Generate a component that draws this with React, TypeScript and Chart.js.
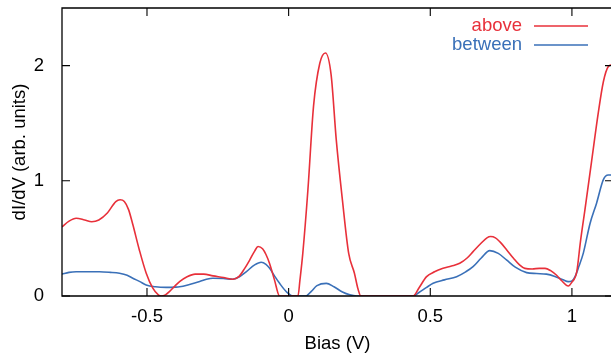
import React, { useEffect, useRef } from "react";
import { Chart, registerables } from "chart.js";

Chart.register(...registerables);

const aboveX = [-0.8, -0.775, -0.75, -0.72, -0.695, -0.67, -0.64, -0.61, -0.595, -0.58, -0.565, -0.55, -0.527, -0.503, -0.48, -0.46, -0.45, -0.435, -0.42, -0.4, -0.385, -0.36, -0.33, -0.3, -0.267, -0.23, -0.197, -0.175, -0.155, -0.138, -0.12, -0.108, -0.092, -0.08, -0.067, -0.05, -0.032, 0.0, 0.033, 0.04, 0.05, 0.068, 0.088, 0.11, 0.13, 0.15, 0.168, 0.19, 0.212, 0.232, 0.245, 0.255, 0.3, 0.35, 0.4, 0.44, 0.46, 0.487, 0.515, 0.545, 0.575, 0.604, 0.63, 0.651, 0.68, 0.7, 0.713, 0.73, 0.746, 0.77, 0.793, 0.815, 0.834, 0.86, 0.885, 0.905, 0.925, 0.946, 0.965, 0.987, 1.0, 1.017, 1.03, 1.046, 1.07, 1.093, 1.111, 1.128, 1.145];
const aboveY = [0.6, 0.65, 0.675, 0.66, 0.645, 0.66, 0.72, 0.82, 0.835, 0.82, 0.75, 0.62, 0.4, 0.2, 0.07, 0.01, 0.0, 0.01, 0.04, 0.09, 0.125, 0.165, 0.19, 0.19, 0.175, 0.16, 0.145, 0.17, 0.24, 0.31, 0.39, 0.43, 0.41, 0.36, 0.28, 0.14, 0.0, 0.0, 0.0, 0.14, 0.37, 0.92, 1.65, 2.02, 2.11, 1.92, 1.36, 0.83, 0.37, 0.2, 0.06, 0.0, 0.0, 0.0, 0.0, 0.0, 0.07, 0.168, 0.21, 0.24, 0.26, 0.284, 0.33, 0.385, 0.46, 0.505, 0.516, 0.505, 0.47, 0.4, 0.33, 0.27, 0.24, 0.235, 0.24, 0.24, 0.22, 0.18, 0.13, 0.087, 0.12, 0.21, 0.47, 0.75, 1.18, 1.59, 1.86, 1.99, 2.01];

const betweenX = [-0.8, -0.775, -0.75, -0.7, -0.668, -0.63, -0.597, -0.57, -0.55, -0.525, -0.503, -0.47, -0.432, -0.4, -0.385, -0.35, -0.314, -0.29, -0.267, -0.23, -0.197, -0.175, -0.15, -0.12, -0.097, -0.08, -0.067, -0.05, -0.032, -0.008, 0.015, 0.06, 0.08, 0.1, 0.133, 0.16, 0.19, 0.216, 0.24, 0.44, 0.46, 0.487, 0.51, 0.55, 0.593, 0.625, 0.651, 0.68, 0.71, 0.74, 0.769, 0.8, 0.84, 0.875, 0.91, 0.94, 0.969, 0.987, 1.0, 1.011, 1.025, 1.04, 1.064, 1.087, 1.111, 1.128, 1.145];
const betweenY = [0.19, 0.205, 0.21, 0.21, 0.21, 0.205, 0.197, 0.18, 0.154, 0.125, 0.096, 0.08, 0.075, 0.077, 0.08, 0.1, 0.125, 0.145, 0.154, 0.152, 0.145, 0.165, 0.21, 0.27, 0.293, 0.275, 0.24, 0.175, 0.11, 0.037, 0.0, 0.0, 0.04, 0.09, 0.11, 0.08, 0.035, 0.01, 0.0, 0.0, 0.03, 0.075, 0.11, 0.14, 0.168, 0.21, 0.255, 0.33, 0.394, 0.37, 0.313, 0.25, 0.203, 0.195, 0.19, 0.17, 0.14, 0.125, 0.13, 0.168, 0.26, 0.37, 0.63, 0.806, 1.01, 1.05, 1.05];

const seriesNames = ["above", "between"];
const seriesColors = ["#e8303a", "#3a70b8"];
const xTicks = [-0.5, 0, 0.5, 1];
const xTickLabels = ["-0.5", "0", "0.5", "1"];
const yTicks = [0, 1, 2];
const yTickLabels = ["0", "1", "2"];
const xRange = [-0.8, 1.145];
const yRange = [0, 2.5];
const xTitle = "Bias (V)";
const yTitle = "dI/dV (arb. units)";

const FONT = "'Liberation Sans', Arial, Helvetica, sans-serif";
const FS = 18.5;

const framePlugin = {
  id: "frame",
  afterDraw(chart: any) {
    const { ctx, chartArea } = chart;
    const { left, right, top, bottom } = chartArea;
    const xs = chart.scales.x;
    const ys = chart.scales.y;
    ctx.save();
    ctx.strokeStyle = "#000";
    ctx.lineWidth = 1.3;
    ctx.beginPath();
    ctx.moveTo(left, top);
    ctx.lineTo(right, top);
    ctx.lineTo(right, bottom);
    ctx.lineTo(left, bottom);
    ctx.closePath();
    ctx.stroke();
    const TL = 8;
    ctx.lineWidth = 1.1;
    ctx.beginPath();
    xTicks.forEach((v) => {
      const px = xs.getPixelForValue(v);
      ctx.moveTo(px, bottom);
      ctx.lineTo(px, bottom - TL);
      ctx.moveTo(px, top);
      ctx.lineTo(px, top + TL);
    });
    yTicks.forEach((v) => {
      const py = ys.getPixelForValue(v);
      ctx.moveTo(left, py);
      ctx.lineTo(left + TL, py);
      ctx.moveTo(right, py);
      ctx.lineTo(right - TL, py);
    });
    ctx.stroke();
    // legend
    ctx.font = `${FS}px ${FONT}`;
    ctx.textAlign = "right";
    ctx.textBaseline = "middle";
    const legY = [26, 45];
    seriesNames.forEach((name, i) => {
      ctx.fillStyle = seriesColors[i];
      ctx.fillText(name, 522, legY[i]);
      ctx.strokeStyle = seriesColors[i];
      ctx.lineWidth = 1.6;
      ctx.beginPath();
      ctx.moveTo(534, legY[i]);
      ctx.lineTo(588, legY[i]);
      ctx.stroke();
    });
    ctx.restore();
  },
};

export default function App() {
  const ref = useRef<HTMLCanvasElement | null>(null);
  useEffect(() => {
    if (!ref.current) return;
    Chart.defaults.font.family = FONT;
    Chart.defaults.font.size = FS;
    Chart.defaults.color = "#000";
    const mk = (xa: number[], ya: number[]) => xa.map((x, i) => ({ x, y: ya[i] }));
    const chart = new Chart(ref.current, {
      type: "line",
      data: {
        datasets: [
          {
            label: seriesNames[0],
            data: mk(aboveX, aboveY),
            borderColor: seriesColors[0],
            borderWidth: 1.6,
            pointRadius: 0,
            cubicInterpolationMode: "monotone",
            fill: false,
          },
          {
            label: seriesNames[1],
            data: mk(betweenX, betweenY),
            borderColor: seriesColors[1],
            borderWidth: 1.6,
            pointRadius: 0,
            cubicInterpolationMode: "monotone",
            fill: false,
          },
        ],
      },
      options: {
        animation: false,
        responsive: false,
        events: [],
        layout: { padding: { left: 0, top: 8, right: 7, bottom: 0 } },
        plugins: { legend: { display: false }, tooltip: { enabled: false } },
        scales: {
          x: {
            type: "linear",
            min: xRange[0],
            max: xRange[1],
            grid: { display: false },
            border: { display: false },
            afterBuildTicks: (s: any) => {
              s.ticks = xTicks.map((v) => ({ value: v }));
            },
            afterFit: (s: any) => {
              s.height = 62;
              s.paddingLeft = 0;
              s.paddingRight = 0;
            },
            ticks: {
              padding: 2,
              maxRotation: 0,
              autoSkip: false,
              callback: (v: any) => {
                const i = xTicks.indexOf(Number(v));
                return i >= 0 ? xTickLabels[i] : "";
              },
            },
            title: { display: true, text: xTitle, padding: { top: 0, bottom: 3 } },
          },
          y: {
            type: "linear",
            min: yRange[0],
            max: yRange[1],
            grid: { display: false },
            border: { display: false },
            afterBuildTicks: (s: any) => {
              s.ticks = yTicks.map((v) => ({ value: v }));
            },
            afterFit: (s: any) => {
              s.width = 62;
              s.paddingTop = 0;
              s.paddingBottom = 0;
            },
            ticks: {
              padding: 10,
              callback: (v: any) => {
                const i = yTicks.indexOf(Number(v));
                return i >= 0 ? yTickLabels[i] : "";
              },
            },
            title: { display: true, text: yTitle, padding: { top: 9, bottom: 0 } },
          },
        },
      },
      plugins: [framePlugin],
    } as any);
    return () => chart.destroy();
  }, []);
  return (
    <div style={{ position: "fixed", left: 0, top: 0, width: 611, height: 358, overflow: "hidden", background: "#fff" }}>
      <canvas ref={ref} width={620} height={358} style={{ display: "block" }} />
    </div>
  );
}
